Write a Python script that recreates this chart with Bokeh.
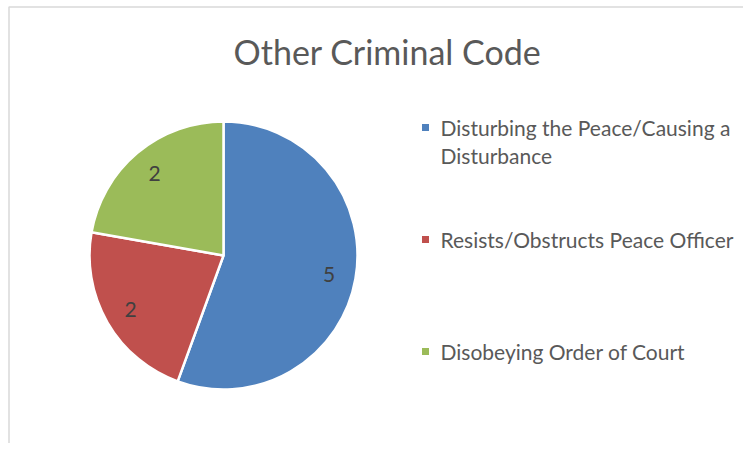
import numpy as np
from bokeh.plotting import figure
from bokeh.models import Range1d, ColumnDataSource
from bokeh.core.properties import value
from bokeh.embed import file_html
from bokeh.resources import INLINE

title = "Other Criminal Code"
categories = ["Disturbing the Peace/Causing a\nDisturbance",
              "Resists/Obstructs Peace Officer",
              "Disobeying Order of Court"]
counts = [5, 2, 2]
colors = ["#4F81BD", "#C0504D", "#9BBB59"]

W, H = 743, 443
FONT = "Lato"
cx, cy, r = 223, H - 255, 134

p = figure(width=W, height=H, output_backend="svg", toolbar_location=None,
           x_range=Range1d(0, W), y_range=Range1d(0, H), min_border=0)
p.axis.visible = False
p.grid.visible = False
p.outline_line_color = None

# chart border (left and top edges)
p.line(x=[8.5, 8.5, W], y=[0, H - 6.5, H - 6.5], line_color="#d9d9d9",
       line_width=1.5)

vals = np.array(counts, dtype=float)
frac = vals / vals.sum()
cum = np.concatenate([[0], np.cumsum(frac)])
start = np.pi / 2 - cum[:-1] * 2 * np.pi
end = np.pi / 2 - cum[1:] * 2 * np.pi
mid = (start + end) / 2

src = ColumnDataSource(dict(start=start, end=end, color=colors,
                            x=[cx] * 3, y=[cy] * 3))
p.wedge(x="x", y="y", radius=r, start_angle="start", end_angle="end",
        direction="clock", fill_color="color", line_color="white",
        line_width=2.5, source=src)

lr = 0.8 * r
lab = ColumnDataSource(dict(x=cx + lr * np.cos(mid), y=cy + lr * np.sin(mid),
                            t=[str(c) for c in counts]))
p.text(x="x", y="y", text="t", source=lab, text_align="center",
       text_baseline="middle", text_font=value(FONT), text_font_size="21px",
       text_color="#404040")

p.text(x=[387], y=[H - 51], text=[title], text_align="center",
       text_baseline="middle", text_font=value(FONT), text_font_size="34px",
       text_color="#595959")

# legend
ly = [H - 127 - i * 112 for i in range(len(categories))]
p.scatter(x=[425] * 3, y=ly, marker="square", size=7, fill_color=colors,
          line_color=None)
tx, ty, tt = [], [], []
for y0, cat in zip(ly, categories):
    for j, line in enumerate(cat.split("\n")):
        tx.append(440)
        ty.append(y0 - j * 28)
        tt.append(line)
p.text(x=tx, y=ty, text=tt, text_align="left", text_baseline="middle",
       text_font=value(FONT), text_font_size="21px", text_color="#595959")

open("out.html", "w").write(file_html(p, INLINE))
